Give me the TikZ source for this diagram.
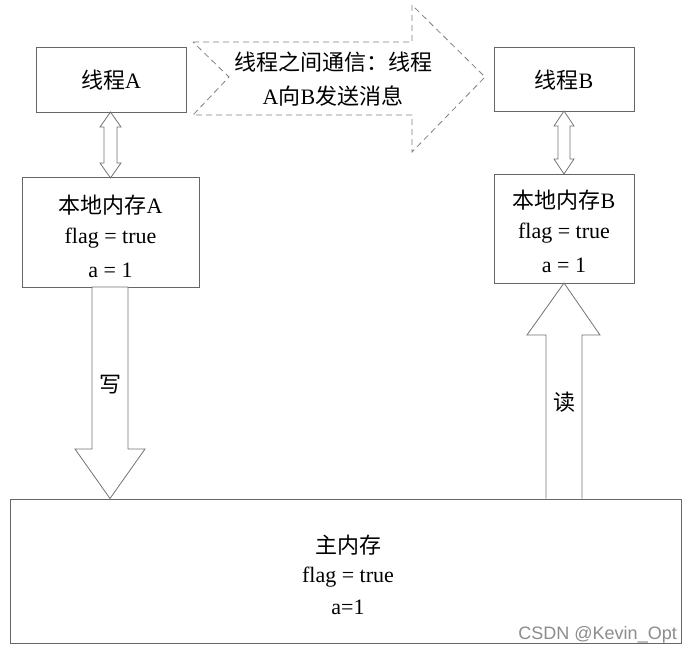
\documentclass[tikz,border=0pt]{standalone}
\usepackage{fontspec}
\setmainfont{Liberation Serif}
\newfontfamily\cjk{Noto Sans CJK SC}
\newfontfamily\wm{Liberation Sans}
\begin{document}
\begin{tikzpicture}[x=1pt,y=-1pt,
  box/.style={draw=black!60, line width=0.9pt, fill=white},
  blk/.style={draw=black!55, line width=0.8pt, fill=white, line join=miter},
  dsh/.style={draw=black!50, line width=0.8pt, dash pattern=on 6pt off 4pt},
  txt/.style={font=\fontsize{22}{26}\selectfont, align=center, inner sep=0pt}]
\useasboundingbox (0,0) rectangle (692,655);
% boxes
\node[box, minimum width=150pt, minimum height=65pt, inner sep=0pt] (ta) at (111,79.5) {};
\node[box, minimum width=140pt, minimum height=64pt, inner sep=0pt] (tb) at (564,79) {};
\node[box, minimum width=177pt, minimum height=110pt, inner sep=0pt] (ma) at (110.5,232) {};
\node[box, minimum width=140pt, minimum height=109pt, inner sep=0pt] (mb) at (564,228.5) {};
\node[box, minimum width=671pt, minimum height=144pt, inner sep=0pt] (mm) at (345.5,571) {};
% texts
\node[txt] (tat) at (111,80) {{\cjk 线程}A};
\node[txt] (tbt) at (564,80) {{\cjk 线程}B};
\node[txt] (ma1) at (110.5,205) {{\cjk 本地内存}A};
\node[txt] (ma2) at (110.5,238) {flag = true};
\node[txt] (ma3) at (110.5,270) {a = 1};
\node[txt] (mb1) at (564,200) {{\cjk 本地内存}B};
\node[txt] (mb2) at (564,233) {flag = true};
\node[txt] (mb3) at (564,265) {a = 1};
\node[txt] (mm1) at (348,545) {{\cjk 主内存}};
\node[txt] (mm2) at (348,577) {flag = true};
\node[txt] (mm3) at (348,607) {a=1};
% double arrows
\draw[blk] (110.5,112) -- (121,127) -- (117,127) -- (117,163) -- (121,163) -- (110.5,178)
  -- (100,163) -- (104,163) -- (104,127) -- (100,127) -- cycle;
\draw[blk] (564,111) -- (574,126) -- (570,126) -- (570,159) -- (574,159) -- (564,174)
  -- (554,159) -- (558,159) -- (558,126) -- (554,126) -- cycle;
% write arrow
\draw[blk] (92,287) -- (128,287) -- (128,449) -- (145,449) -- (110,498.5) -- (75,449) -- (92,449) -- cycle;
\node[txt] (w) at (110,385) {\cjk 写};
% read arrow
\draw[blk] (546,498.5) -- (546,335) -- (527,335) -- (564,283) -- (600,335) -- (582,335) -- (582,498.5);
\node[txt] (r) at (564,402) {\cjk 读};
% dashed arrow
\draw[dsh] (193,42) -- (412,42) -- (412,5) -- (485,77) -- (412,152) -- (412,115) -- (193,115) -- (229,77) -- cycle;
\node[txt] (d1) at (333,62) {\cjk 线程之间通信：线程};
\node[txt] (d2) at (333,96) {A{\cjk 向}B{\cjk 发送消息}};
% watermark
\node[anchor=south east, inner sep=0pt, text=black!45, font=\wm\fontsize{18}{21}\selectfont] (wm) at (677,643) {CSDN @Kevin\_Opt};
\end{tikzpicture}
\end{document}
